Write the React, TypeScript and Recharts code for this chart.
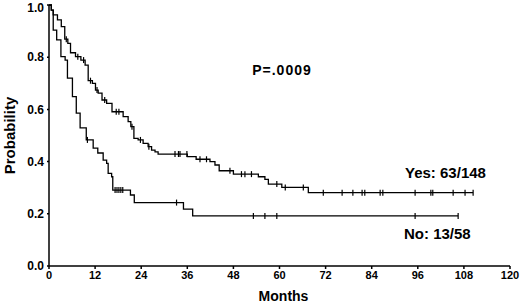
import React from "react";
import { LineChart, Line, XAxis, YAxis, Label } from "recharts";

const xTicks = [0, 12, 24, 36, 48, 60, 72, 84, 96, 108, 120];
const yTicks = [0, 0.2, 0.4, 0.6, 0.8, 1.0];

// Gruppo "Yes": tempi (mesi) degli eventi e sopravvivenza dopo ogni gradino
const yesTimes = [
  0, 0.6, 1.1, 2.2, 3.2, 4.1, 4.9, 5.6, 6.9, 8.3, 9.4, 10.2, 11.3, 12.1, 12.8,
  13.8, 15.0, 16.4, 19.3, 20.6, 21.3, 22.1, 23.2, 24.5, 25.8, 26.7, 27.6, 28.4,
  36.0, 38.3, 41.9, 43.2, 44.3, 48.0, 54.5, 56.2, 57.1, 60.6, 67.5,
];
const yesSurv = [
  1.0, 0.98, 0.962, 0.943, 0.917, 0.869, 0.853, 0.817, 0.802, 0.789, 0.77,
  0.71, 0.7, 0.674, 0.662, 0.636, 0.623, 0.591, 0.572, 0.553, 0.534, 0.489,
  0.483, 0.47, 0.457, 0.444, 0.437, 0.429, 0.419, 0.409, 0.4, 0.387, 0.365,
  0.352, 0.342, 0.332, 0.314, 0.301, 0.281,
];
const yesCensored = [
  4.5, 7.5, 9.0, 10.8, 12.5, 14.5, 17.5, 18.2, 21.6, 23.8, 26.0, 32.8, 33.7,
  34.1, 35.9, 39.3, 41.0, 47.1, 50.1, 51.0, 52.7, 59.3, 61.5, 66.2, 71.4, 76.3,
  79.1, 81.5, 82.2, 86.2, 86.9, 95.3, 99.4, 99.9, 105.2, 108.3, 110.4,
];

// Gruppo "No"
const noTimes = [
  0, 0.6, 1.1, 2.0, 3.1, 4.2, 4.8, 6.1, 7.1, 8.1, 9.7, 11.5, 12.7, 14.1, 15.0,
  15.4, 16.3, 16.6, 21.2, 22.2, 35.0, 37.4,
];
const noSurv = [
  1.0, 0.98, 0.904, 0.866, 0.802, 0.789, 0.72, 0.649, 0.586, 0.529, 0.483,
  0.452, 0.433, 0.406, 0.393, 0.355, 0.342, 0.291, 0.272, 0.243, 0.218, 0.192,
];
const noCensored = [
  10.0, 17.2, 17.7, 18.2, 18.7, 19.2, 33.2, 53.2, 56.2, 59.3, 95.3, 106.5,
];

type Row = { t: number; p: number; c: boolean };

// valore della curva a gradini al tempo t
const stepValue = (times: number[], surv: number[], t: number) => {
  let v = surv[0];
  times.forEach((tt, i) => {
    if (tt <= t) v = surv[i];
  });
  return v;
};

const buildRows = (times: number[], surv: number[], censored: number[]) => {
  const rows: Row[] = times.map((t, i) => ({ t, p: surv[i], c: false }));
  censored.forEach((t) =>
    rows.push({ t, p: stepValue(times, surv, t), c: true }),
  );
  return rows.sort((a, b) => a.t - b.t);
};

const yesData = buildRows(yesTimes, yesSurv, yesCensored);
const noData = buildRows(noTimes, noSurv, noCensored);

const font = "'Liberation Sans', Arial, Helvetica, sans-serif";

const CensorTick = (props: any) => {
  const { cx, cy, payload, index } = props;
  if (!payload?.c) return <g key={`n-${index}`} />;
  return (
    <line
      key={`c-${index}`}
      x1={cx}
      x2={cx}
      y1={cy - 3}
      y2={cy + 3}
      stroke="#000"
      strokeWidth={1.2}
    />
  );
};

const App: React.FC = () => {
  return (
    <div style={{ position: "absolute", left: 0, top: 0, width: 520, height: 304, background: "#fff" }}>
      <LineChart
        width={520}
        height={304}
        margin={{ top: 5, right: 10, left: 0, bottom: 0 }}
      >
        <XAxis
          type="number"
          dataKey="t"
          domain={[0, 120]}
          ticks={xTicks}
          height={38}
          axisLine={{ stroke: "#000", strokeWidth: 1.5 }}
          tickLine={{ stroke: "#000", strokeWidth: 1.5 }}
          tickSize={3}
          tickMargin={2}
          tick={{ fill: "#000", fontSize: 11, fontWeight: "bold", fontFamily: font }}
        >
          <Label
            value="Months"
            position="insideBottom"
            offset={3}
            dx={4}
            style={{ fill: "#000", fontSize: 14, fontWeight: "bold", fontFamily: font }}
          />
        </XAxis>
        <YAxis
          type="number"
          domain={[0, 1]}
          ticks={yTicks}
          width={49}
          tickFormatter={(v: number) => v.toFixed(1)}
          axisLine={{ stroke: "#000", strokeWidth: 1.5 }}
          tickLine={{ stroke: "#000", strokeWidth: 1.5 }}
          tickSize={2}
          tickMargin={3}
          tick={{ fill: "#000", fontSize: 12, fontWeight: "bold", fontFamily: font }}
        >
          <Label
            value="Probability"
            angle={-90}
            position="insideLeft"
            offset={10}
            style={{ fill: "#000", fontSize: 15, fontWeight: "bold", fontFamily: font, textAnchor: "middle" }}
          />
        </YAxis>
        <Line
          data={yesData}
          dataKey="p"
          type="stepAfter"
          stroke="#000"
          strokeWidth={1.3}
          dot={CensorTick}
          activeDot={false}
          isAnimationActive={false}
        />
        <Line
          data={noData}
          dataKey="p"
          type="stepAfter"
          stroke="#000"
          strokeWidth={1.3}
          dot={CensorTick}
          activeDot={false}
          isAnimationActive={false}
        />
      </LineChart>
      <svg
        width={520}
        height={304}
        style={{ position: "absolute", left: 0, top: 0, pointerEvents: "none" }}
      >
        <g fontFamily={font} fontWeight="bold" fill="#000">
          <text x={282} y={70} fontSize={14} textAnchor="middle" dominantBaseline="central" letterSpacing={1}>
            P=.0009
          </text>
          <text x={405} y={172} fontSize={15} dominantBaseline="central">
            Yes: 63/148
          </text>
          <text x={404} y={233} fontSize={15} dominantBaseline="central">
            No: 13/58
          </text>
        </g>
      </svg>
    </div>
  );
};

export default App;
